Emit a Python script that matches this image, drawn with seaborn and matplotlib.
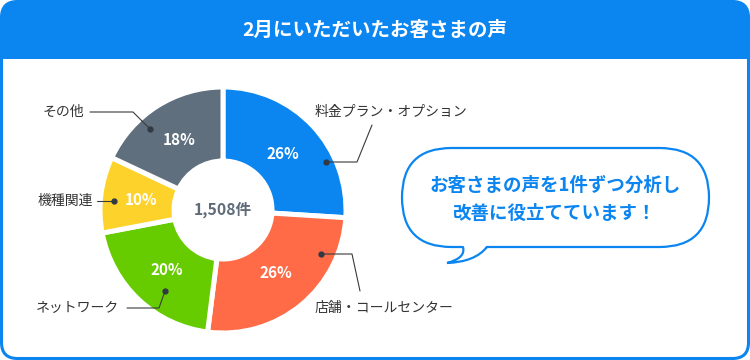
import matplotlib
matplotlib.use("Agg")
import matplotlib.pyplot as plt
import matplotlib.patches as patches
from matplotlib.path import Path
import seaborn as sns

# データ
categories = ["料金プラン・オプション", "店舗・コールセンター", "ネットワーク", "機種関連", "その他"]
shares = [26, 26, 20, 10, 18]
seg_colors = ["#0B85F0", "#FF6B47", "#66CC00", "#FDD22B", "#5F6F7E"]
total_label = "1,508件"
title = "2月にいただいたお客さまの声"
bubble_lines = ["お客さまの声を1件ずつ分析し", "改善に役立てています！"]

sns.set_theme(style="white")
plt.rcParams["font.family"] = ["Noto Sans CJK JP", "DejaVu Sans"]

W, H = 750, 360
BLUE = "#0B85F0"
TXT = "#333333"


def Y(y):
    # Pixel (von oben) -> Datenkoordinate (von unten)
    return H - y


fig = plt.figure(figsize=(7.5, 3.6), dpi=100)
ax = fig.add_axes([0, 0, 1, 1])
ax.set_xlim(0, W)
ax.set_ylim(0, H)
ax.axis("off")

# Rahmen mit Kopfzeile
box = patches.FancyBboxPatch((1.5, 1.5), W - 3, H - 3, boxstyle="round,pad=0,rounding_size=16",
                             facecolor="white", edgecolor=BLUE, linewidth=2.2, zorder=1)
ax.add_patch(box)
header = patches.Rectangle((0, Y(59)), W, 59, facecolor=BLUE, edgecolor="none", zorder=2)
ax.add_patch(header)
header.set_clip_path(box)
ax.text(W / 2, Y(30), title, color="white", fontsize=14, fontweight="bold",
        ha="center", va="center", zorder=3)

# Donut
cx, cy = 223, Y(210)
wedges, _, pct_texts = ax.pie(
    shares, colors=sns.color_palette(seg_colors), startangle=90, counterclock=False,
    center=(cx, cy), radius=123, autopct="%d%%", pctdistance=0.67,
    wedgeprops=dict(width=74, edgecolor="white", linewidth=3.6),
    textprops=dict(color="white", fontsize=11, fontweight="bold"))
for w in wedges:
    w.set_zorder(4)
for t in pct_texts:
    t.set_zorder(5)
ax.text(cx, cy, total_label, color="#5F6B78", fontsize=11.3, fontweight="bold",
        ha="center", va="center", zorder=5)

# Beschriftungen mit Führungslinien (Pixelpunkte: Punkt -> Knick -> Ende)
leaders = [
    [(326, 162), (357, 162), (372, 125)],
    [(321, 254), (352, 254), (360, 291)],
    [(165, 291), (159, 308), (127, 308)],
    [(114, 201), (97, 201)],
    [(150, 129), (133, 112), (90, 112)],
]
label_pos = [(315, 112, "left"), (315, 308, "left"), (119, 308, "right"),
             (93, 201, "right"), (84, 112, "right")]
for cat, pts, (lx, ly, ha) in zip(categories, leaders, label_pos):
    xs = [p[0] for p in pts]
    ys = [Y(p[1]) for p in pts]
    ax.plot(xs, ys, color="#3a3a3a", linewidth=0.8, zorder=6)
    ax.plot(xs[0], ys[0], "o", color="#2f3a44", markersize=3.5, zorder=7)
    ax.text(lx, Y(ly), cat, color=TXT, fontsize=10, ha=ha, va="center", zorder=6)

# Sprechblase
bx0, bx1, by0, by1 = 402, 709, 148, 247
bubble = patches.FancyBboxPatch((bx0, Y(by1)), bx1 - bx0, by1 - by0,
                                boxstyle="round,pad=0,rounding_size=49.5",
                                facecolor="white", edgecolor=BLUE, linewidth=1.6, zorder=3)
ax.add_patch(bubble)
tail_fill = Path([(462, Y(244)), (466, Y(258)), (447, Y(263)), (475, Y(262)), (488, Y(244)),
                  (462, Y(244))],
                 [Path.MOVETO, Path.CURVE3, Path.CURVE3, Path.CURVE3, Path.CURVE3, Path.CLOSEPOLY])
ax.add_patch(patches.PathPatch(tail_fill, facecolor="white", edgecolor="none", zorder=4))
tail_line = Path([(463, Y(247)), (466, Y(258)), (447, Y(263)), (475, Y(262)), (487, Y(247))],
                 [Path.MOVETO, Path.CURVE3, Path.CURVE3, Path.CURVE3, Path.CURVE3])
ax.add_patch(patches.PathPatch(tail_line, facecolor="none", edgecolor=BLUE, linewidth=1.6,
                               zorder=5, capstyle="round"))
ax.text(555, Y(185), bubble_lines[0], color=BLUE, fontsize=13.3, fontweight="bold",
        ha="center", va="center", zorder=6)
ax.text(555, Y(213), bubble_lines[1], color=BLUE, fontsize=13.3, fontweight="bold",
        ha="center", va="center", zorder=6)

ax.set_xlim(0, W)
ax.set_ylim(0, H)
ax.set_aspect("auto")
fig.savefig("out.png", dpi=100)
